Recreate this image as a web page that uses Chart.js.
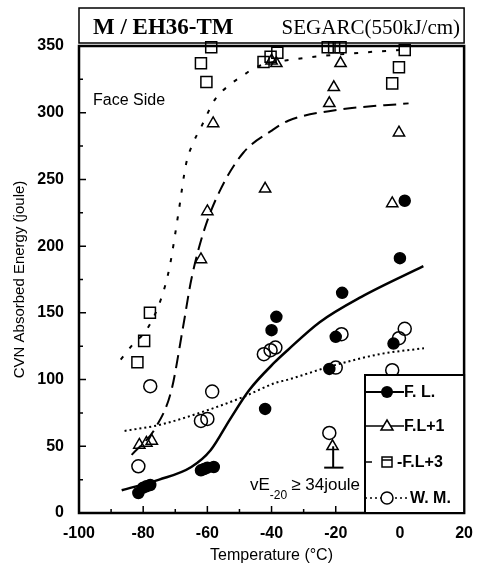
<!DOCTYPE html>
<html>
<head>
<meta charset="utf-8">
<script src="https://cdn.jsdelivr.net/npm/chart.js@4.4.1/dist/chart.umd.min.js"></script>
<style>
	html, body { margin: 0; padding: 0; background: #fff; }
	#wrap { width: 484px; height: 574px; }
</style>
</head>
<body>
<div id="wrap"><canvas id="chart1"></canvas></div>
<script>
// 측정 데이터 (온도 °C, 흡수에너지 joule)
const flTemp = [-81.5, -80, -79, -77.8, -62, -61, -60, -58, -42, -40, -38.5, -22, -20, -18, -2, 0, 1.5];
const flEnergy = [15, 19, 20, 21, 32, 33, 34, 34.5, 78, 137, 147, 108, 132, 165, 127, 191, 234];

const fl1Temp = [-81.2, -79, -77.3, -62, -60, -58.2, -42, -40, -38.5, -22, -20.6, -21, -18.5, -2.4, -0.3];
const fl1Energy = [51, 52.5, 54, 190, 226, 292, 243, 339, 337, 307, 319, 50, 337, 232, 285];

const fl3Temp = [-81.8, -79.7, -77.9, -62, -60.3, -58.8, -42.5, -40.3, -38.2, -22.5, -20.5, -18.5, -2.4, -0.3, 1.5];
const fl3Energy = [113, 129, 150, 337, 323, 349, 338, 342, 345, 349, 349, 349, 322, 334, 347];

const wmTemp = [-81.5, -77.8, -62, -60, -58.5, -42.4, -40.3, -38.8, -22, -20, -18.2, -2.4, -0.3, 1.5];
const wmEnergy = [35, 95, 69, 70.5, 91, 119, 122, 124, 60, 109, 134, 107, 131, 138];

// 회귀 곡선
const flFitTemp = [-86.7, -75, -65, -59, -53, -47, -39, -35, -25, -12, 7.3];
const flFitEnergy = [17, 25, 34.5, 47, 70, 92, 113, 122, 143, 162, 185];

const fl1FitTemp = [-83.6, -76, -71.2, -67.6, -65, -61, -56, -48.8, -39.7, -34.8, -19.7, 2.7];
const fl1FitEnergy = [43.5, 64.5, 92, 139, 175, 212, 242, 270, 287, 294, 302, 307];

const fl3FitTemp = [-87, -83, -79, -74.5, -71.8, -69, -66.6, -64.5, -62, -57.6, -53, -48.8, -45, -33, -12, 0];
const fl3FitEnergy = [115, 127, 137, 160, 184, 225, 262, 277, 289, 310, 321, 328, 334, 340, 345, 347];

const wmFitTemp = [-85.8, -75, -60, -48.8, -38.8, -34.8, -21.5, -6.4, 7.5];
const wmFitEnergy = [61.5, 66, 77, 87, 97.5, 100, 110, 119, 123.5];

// vE-20 ≥ 34 joule 표시
const reqStemTemp = [-20.8, -20.8];
const reqStemEnergy = [34, 50];
const reqBaseTemp = [-23.6, -17.6];
const reqBaseEnergy = [34, 34];

const legendLabels = ['F. L.', 'F.L+1', '-F.L+3', 'W. M.'];

const SANS = '"Liberation Sans", Arial, sans-serif';
const SERIF = '"Liberation Serif", "Times New Roman", serif';

function toPoints(t, e) {
	return t.map((x, i) => ({ x: x, y: e[i] }));
}

function curve(t, e, dash, width) {
	return {
		type: 'line',
		data: toPoints(t, e),
		borderColor: '#000',
		borderWidth: width,
		borderDash: dash,
		pointRadius: 0,
		cubicInterpolationMode: 'monotone',
		fill: false
	};
}

function marks(t, e, style, radius, fill) {
	return {
		type: 'scatter',
		data: toPoints(t, e),
		pointStyle: style,
		pointRadius: radius,
		pointBorderColor: '#000',
		pointBackgroundColor: fill,
		pointBorderWidth: 1.5,
		clip: false
	};
}

const decorations = {
	id: 'decorations',
	afterDatasetsDraw(chart) {
		const { ctx, chartArea: a, scales: { x, y } } = chart;
		ctx.save();
		ctx.strokeStyle = '#000';
		ctx.fillStyle = '#000';
		ctx.setLineDash([]);

		// 안쪽 눈금
		ctx.lineWidth = 1.5;
		ctx.beginPath();
		for (let v = -100; v <= 20; v += 10) {
			const px = x.getPixelForValue(v);
			const len = v % 20 === 0 ? 7 : 4;
			ctx.moveTo(px, a.bottom);
			ctx.lineTo(px, a.bottom - len);
		}
		for (let v = 0; v <= 350; v += 25) {
			const py = y.getPixelForValue(v);
			const len = v % 50 === 0 ? 7 : 4;
			ctx.moveTo(a.left, py);
			ctx.lineTo(a.left + len, py);
		}
		ctx.stroke();

		// 외곽 프레임
		ctx.lineWidth = 2.5;
		ctx.strokeRect(a.left, a.top, a.right - a.left, a.bottom - a.top);

		// 제목 박스
		ctx.lineWidth = 1.5;
		ctx.strokeRect(a.left, 8, a.right - a.left, 35);
		ctx.textBaseline = 'alphabetic';
		ctx.font = 'bold 23px ' + SERIF;
		ctx.textAlign = 'left';
		ctx.fillText('M / EH36-TM', a.left + 14, 34);
		ctx.font = '21px ' + SERIF;
		ctx.textAlign = 'right';
		ctx.fillText('SEGARC(550kJ/cm)', a.right - 4, 34);

		// 주석
		ctx.textAlign = 'left';
		ctx.font = '16px ' + SANS;
		ctx.fillText('Face Side', 93, 105);
		ctx.font = '17px ' + SANS;
		ctx.fillText('vE', 250, 490);
		let w = ctx.measureText('vE').width;
		ctx.font = '12px ' + SANS;
		ctx.fillText('-20', 250 + w, 499);
		w += ctx.measureText('-20').width + 4;
		ctx.font = '17px ' + SANS;
		ctx.fillText('\u2265 34joule', 250 + w, 490);

		// 범례
		const lx = 365, ly = 375, lw = a.right - lx, lh = a.bottom - ly;
		ctx.fillStyle = '#fff';
		ctx.fillRect(lx, ly, lw, lh);
		ctx.fillStyle = '#000';
		ctx.lineWidth = 2;
		ctx.strokeRect(lx, ly, lw, lh);

		const rows = [392, 426, 462, 498];
		const mx = 387;
		ctx.font = 'bold 16px ' + SANS;
		ctx.textBaseline = 'middle';

		// F. L.
		ctx.lineWidth = 2;
		ctx.beginPath(); ctx.moveTo(lx, rows[0]); ctx.lineTo(404, rows[0]); ctx.stroke();
		ctx.beginPath(); ctx.arc(mx, rows[0], 6, 0, Math.PI * 2); ctx.fill();
		ctx.fillText(legendLabels[0], 404, rows[0] + 1);

		// F.L+1
		ctx.lineWidth = 1.5;
		ctx.beginPath(); ctx.moveTo(lx, rows[1]); ctx.lineTo(404, rows[1]); ctx.stroke();
		ctx.fillStyle = '#fff';
		ctx.beginPath();
		ctx.moveTo(mx, rows[1] - 6); ctx.lineTo(mx + 6, rows[1] + 4); ctx.lineTo(mx - 6, rows[1] + 4); ctx.closePath();
		ctx.fill(); ctx.stroke();
		ctx.fillStyle = '#000';
		ctx.fillText(legendLabels[1], 404, rows[1] + 1);

		// F.L+3
		ctx.beginPath(); ctx.moveTo(lx, rows[2]); ctx.lineTo(372, rows[2]); ctx.stroke();
		ctx.strokeRect(mx - 5, rows[2] - 5, 10, 10);
		ctx.beginPath(); ctx.moveTo(mx - 5, rows[2] - 2); ctx.lineTo(mx + 5, rows[2] - 2); ctx.stroke();
		ctx.fillText(legendLabels[2], 397, rows[2] + 1);

		// W. M.
		ctx.setLineDash([2, 3]);
		ctx.beginPath(); ctx.moveTo(lx, rows[3]); ctx.lineTo(408, rows[3]); ctx.stroke();
		ctx.setLineDash([]);
		ctx.fillStyle = '#fff';
		ctx.beginPath(); ctx.arc(mx, rows[3], 6, 0, Math.PI * 2); ctx.fill(); ctx.stroke();
		ctx.fillStyle = '#000';
		ctx.fillText(legendLabels[3], 410, rows[3] + 1);

		ctx.restore();
	}
};

new Chart(document.getElementById('chart1'), {
	type: 'scatter',
	data: {
		datasets: [
			marks(flTemp, flEnergy, 'circle', 5.5, '#000'),
			marks(fl1Temp, fl1Energy, 'triangle', 6.5, 'rgba(0,0,0,0)'),
			marks(fl3Temp, fl3Energy, 'rect', 7.8, 'rgba(0,0,0,0)'),
			marks(wmTemp, wmEnergy, 'circle', 6.5, 'rgba(0,0,0,0)'),
			curve(flFitTemp, flFitEnergy, [], 2.5),
			curve(fl1FitTemp, fl1FitEnergy, [13, 7], 2),
			curve(fl3FitTemp, fl3FitEnergy, [4, 10], 2),
			curve(wmFitTemp, wmFitEnergy, [2, 3], 2),
			curve(reqStemTemp, reqStemEnergy, [], 2),
			curve(reqBaseTemp, reqBaseEnergy, [], 2)
		]
	},
	options: {
		responsive: true,
		maintainAspectRatio: false,
		animation: false,
		layout: { padding: { top: 46, right: 11, left: 0, bottom: 0 } },
		plugins: {
			legend: { display: false },
			tooltip: { enabled: false }
		},
		scales: {
			x: {
				type: 'linear',
				min: -100,
				max: 20,
				afterFit: (scale) => { scale.height = 61; },
				grid: { display: false, drawTicks: false },
				border: { display: false },
				ticks: {
					stepSize: 20,
					padding: 11,
					color: '#000',
					font: { family: SANS, size: 16, weight: 'bold' }
				},
				title: {
					display: true,
					text: 'Temperature (°C)',
					color: '#000',
					font: { family: SANS, size: 16 },
					padding: { top: 0, bottom: 9 }
				}
			},
			y: {
				type: 'linear',
				min: 0,
				max: 350,
				afterFit: (scale) => { scale.width = 79; },
				grid: { display: false, drawTicks: false },
				border: { display: false },
				ticks: {
					stepSize: 50,
					padding: 15,
					color: '#000',
					font: { family: SANS, size: 16, weight: 'bold' }
				},
				title: {
					display: true,
					text: 'CVN Absorbed Energy (joule)',
					color: '#000',
					font: { family: SANS, size: 15 },
					padding: { top: 11, bottom: 0 }
				}
			}
		}
	},
	plugins: [decorations]
});
</script>
</body>
</html>
